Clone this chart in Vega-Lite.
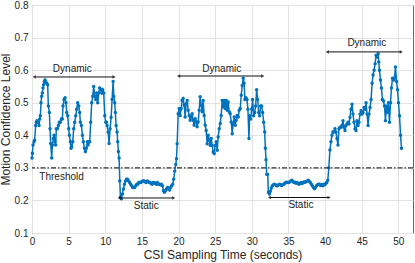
{
"$schema": "https://vega.github.io/schema/vega-lite/v6.json",
"width": 381, "height": 228,
"autosize": {"type": "none"},
"padding": {"left": 32, "top": 5, "right": 2, "bottom": 30},
"background": "white",
"config": {
  "view": {"stroke": "#666666", "strokeWidth": 1},
  "font": "Liberation Sans",
  "axis": {"labelFont": "Liberation Sans", "titleFont": "Liberation Sans", "labelColor": "#262626", "titleColor": "#262626", "labelFontSize": 10, "titleFontSize": 12, "titleFontWeight": "normal", "gridColor": "#e3e3e3", "gridWidth": 1, "domain": false, "ticks": false, "labelOverlap": false, "labelFlush": false}
},
"datasets": {
"series": [
{"t":0,"v":0.33},{"t":0.05,"v":0.345},{"t":0.14,"v":0.37},{"t":0.27,"v":0.38},{"t":0.36,"v":0.385},{"t":0.5,"v":0.43},{"t":0.59,"v":0.44},{"t":0.68,"v":0.445},{"t":0.82,"v":0.44},{"t":0.96,"v":0.43},{"t":1.05,"v":0.45},{"t":1.14,"v":0.46},{"t":1.23,"v":0.5},{"t":1.32,"v":0.52},{"t":1.41,"v":0.53},{"t":1.5,"v":0.545},{"t":1.59,"v":0.555},{"t":1.68,"v":0.565},{"t":1.77,"v":0.57},{"t":1.87,"v":0.565},{"t":2.0,"v":0.56},{"t":2.14,"v":0.555},{"t":2.23,"v":0.49},{"t":2.37,"v":0.47},{"t":2.46,"v":0.42},{"t":2.55,"v":0.375},{"t":2.69,"v":0.33},{"t":2.78,"v":0.37},{"t":2.91,"v":0.39},{"t":3.01,"v":0.4},{"t":3.14,"v":0.38},{"t":3.23,"v":0.37},{"t":3.32,"v":0.42},{"t":3.46,"v":0.42},{"t":3.6,"v":0.43},{"t":3.73,"v":0.44},{"t":3.87,"v":0.44},{"t":4.01,"v":0.45},{"t":4.14,"v":0.45},{"t":4.23,"v":0.49},{"t":4.37,"v":0.51},{"t":4.51,"v":0.515},{"t":4.64,"v":0.5},{"t":4.74,"v":0.47},{"t":4.87,"v":0.46},{"t":5.01,"v":0.42},{"t":5.1,"v":0.4},{"t":5.24,"v":0.38},{"t":5.33,"v":0.36},{"t":5.42,"v":0.365},{"t":5.56,"v":0.38},{"t":5.69,"v":0.42},{"t":5.83,"v":0.44},{"t":5.97,"v":0.46},{"t":6.1,"v":0.48},{"t":6.24,"v":0.5},{"t":6.38,"v":0.49},{"t":6.51,"v":0.47},{"t":6.6,"v":0.44},{"t":6.74,"v":0.43},{"t":6.88,"v":0.4},{"t":7.01,"v":0.38},{"t":7.15,"v":0.36},{"t":7.29,"v":0.35},{"t":7.42,"v":0.36},{"t":7.56,"v":0.38},{"t":7.65,"v":0.37},{"t":7.79,"v":0.38},{"t":7.88,"v":0.38},{"t":8.01,"v":0.44},{"t":8.15,"v":0.5},{"t":8.29,"v":0.52},{"t":8.42,"v":0.55},{"t":8.56,"v":0.52},{"t":8.7,"v":0.51},{"t":8.83,"v":0.53},{"t":8.97,"v":0.5},{"t":9.11,"v":0.53},{"t":9.24,"v":0.545},{"t":9.38,"v":0.54},{"t":9.52,"v":0.53},{"t":9.65,"v":0.54},{"t":9.79,"v":0.53},{"t":9.93,"v":0.46},{"t":10.07,"v":0.44},{"t":10.15,"v":0.44},{"t":10.25,"v":0.43},{"t":10.39,"v":0.41},{"t":10.52,"v":0.375},{"t":10.66,"v":0.42},{"t":10.8,"v":0.455},{"t":10.93,"v":0.51},{"t":11.07,"v":0.565},{"t":11.16,"v":0.52},{"t":11.29,"v":0.5},{"t":11.38,"v":0.47},{"t":11.48,"v":0.43},{"t":11.61,"v":0.41},{"t":11.7,"v":0.38},{"t":11.79,"v":0.35},{"t":11.89,"v":0.33},{"t":11.98,"v":0.26},{"t":12.07,"v":0.21},
{"t":12.2,"v":0.205},{"t":12.34,"v":0.22},{"t":12.48,"v":0.235},{"t":12.62,"v":0.25},{"t":12.76,"v":0.26},{"t":12.9,"v":0.265},{"t":13.04,"v":0.265},{"t":13.18,"v":0.26},{"t":13.32,"v":0.255},{"t":13.46,"v":0.25},{"t":13.6,"v":0.245},{"t":13.74,"v":0.24},{"t":13.88,"v":0.24},{"t":14.02,"v":0.24},{"t":14.16,"v":0.245},{"t":14.3,"v":0.25},{"t":14.44,"v":0.25},{"t":14.58,"v":0.255},{"t":14.72,"v":0.255},{"t":14.86,"v":0.255},{"t":15.0,"v":0.258},{"t":15.14,"v":0.26},{"t":15.28,"v":0.26},{"t":15.42,"v":0.258},{"t":15.56,"v":0.255},{"t":15.7,"v":0.26},{"t":15.84,"v":0.258},{"t":15.98,"v":0.255},{"t":16.12,"v":0.255},{"t":16.26,"v":0.252},{"t":16.4,"v":0.25},{"t":16.54,"v":0.255},{"t":16.68,"v":0.255},{"t":16.82,"v":0.252},{"t":16.96,"v":0.25},{"t":17.1,"v":0.255},{"t":17.24,"v":0.25},{"t":17.38,"v":0.25},{"t":17.52,"v":0.248},{"t":17.66,"v":0.25},{"t":17.8,"v":0.245},{"t":17.94,"v":0.23},{"t":18.08,"v":0.225},{"t":18.22,"v":0.23},{"t":18.36,"v":0.235},{"t":18.5,"v":0.24},{"t":18.64,"v":0.235},{"t":18.78,"v":0.232},{"t":18.92,"v":0.24},{"t":19.06,"v":0.245},{"t":19.2,"v":0.25},{"t":19.34,"v":0.265},{"t":19.48,"v":0.29},{"t":19.62,"v":0.31},
{"t":19.72,"v":0.328},{"t":19.81,"v":0.374},{"t":19.95,"v":0.466},{"t":20.09,"v":0.482},{"t":20.22,"v":0.461},{"t":20.36,"v":0.482},{"t":20.49,"v":0.507},{"t":20.63,"v":0.513},{"t":20.77,"v":0.492},{"t":20.9,"v":0.456},{"t":21.04,"v":0.497},{"t":21.18,"v":0.507},{"t":21.31,"v":0.477},{"t":21.45,"v":0.461},{"t":21.59,"v":0.446},{"t":21.72,"v":0.456},{"t":21.86,"v":0.466},{"t":22.0,"v":0.446},{"t":22.13,"v":0.431},{"t":22.27,"v":0.451},{"t":22.41,"v":0.441},{"t":22.54,"v":0.426},{"t":22.68,"v":0.441},{"t":22.82,"v":0.477},{"t":22.95,"v":0.518},{"t":23.09,"v":0.492},{"t":23.23,"v":0.472},{"t":23.36,"v":0.507},{"t":23.5,"v":0.461},{"t":23.64,"v":0.431},{"t":23.77,"v":0.415},{"t":23.91,"v":0.374},{"t":24.05,"v":0.4},{"t":24.18,"v":0.385},{"t":24.32,"v":0.369},{"t":24.46,"v":0.39},{"t":24.59,"v":0.369},{"t":24.73,"v":0.349},{"t":24.87,"v":0.344},{"t":25.0,"v":0.369},{"t":25.14,"v":0.38},{"t":25.28,"v":0.354},{"t":25.41,"v":0.395},{"t":25.55,"v":0.42},{"t":25.69,"v":0.436},{"t":25.82,"v":0.461},{"t":25.96,"v":0.507},{"t":26.1,"v":0.487},{"t":26.23,"v":0.507},{"t":26.37,"v":0.482},{"t":26.51,"v":0.507},{"t":26.64,"v":0.477},{"t":26.78,"v":0.502},{"t":26.92,"v":0.472},{"t":27.05,"v":0.466},{"t":27.19,"v":0.441},{"t":27.33,"v":0.405},{"t":27.46,"v":0.436},{"t":27.6,"v":0.456},{"t":27.74,"v":0.431},{"t":27.87,"v":0.446},{"t":28.0,"v":0.461},{"t":28.15,"v":0.456},{"t":28.28,"v":0.477},{"t":28.42,"v":0.482},{"t":28.56,"v":0.523},{"t":28.69,"v":0.553},
{"t":28.83,"v":0.575},{"t":28.95,"v":0.56},{"t":29.06,"v":0.51},{"t":29.2,"v":0.515},{"t":29.34,"v":0.51},{"t":29.47,"v":0.48},{"t":29.61,"v":0.39},{"t":29.7,"v":0.46},{"t":29.84,"v":0.45},{"t":29.98,"v":0.48},{"t":30.11,"v":0.51},{"t":30.25,"v":0.46},{"t":30.39,"v":0.47},{"t":30.52,"v":0.49},{"t":30.66,"v":0.54},{"t":30.8,"v":0.51},{"t":30.94,"v":0.47},{"t":31.07,"v":0.46},{"t":31.21,"v":0.49},{"t":31.35,"v":0.49},{"t":31.48,"v":0.47},{"t":31.62,"v":0.44},{"t":31.76,"v":0.41},{"t":31.85,"v":0.36},{"t":31.94,"v":0.325},{"t":32.03,"v":0.28},{"t":32.17,"v":0.28},{"t":32.26,"v":0.225},
{"t":32.4,"v":0.22},{"t":32.53,"v":0.228},{"t":32.67,"v":0.238},{"t":32.81,"v":0.245},{"t":32.95,"v":0.248},{"t":33.09,"v":0.25},{"t":33.23,"v":0.248},{"t":33.37,"v":0.245},{"t":33.51,"v":0.245},{"t":33.65,"v":0.248},{"t":33.79,"v":0.25},{"t":33.93,"v":0.248},{"t":34.07,"v":0.246},{"t":34.21,"v":0.248},{"t":34.35,"v":0.25},{"t":34.49,"v":0.252},{"t":34.63,"v":0.255},{"t":34.77,"v":0.256},{"t":34.91,"v":0.255},{"t":35.05,"v":0.255},{"t":35.19,"v":0.257},{"t":35.33,"v":0.26},{"t":35.47,"v":0.262},{"t":35.61,"v":0.258},{"t":35.75,"v":0.255},{"t":35.89,"v":0.256},{"t":36.03,"v":0.253},{"t":36.17,"v":0.255},{"t":36.31,"v":0.252},{"t":36.45,"v":0.25},{"t":36.59,"v":0.253},{"t":36.73,"v":0.255},{"t":36.87,"v":0.252},{"t":37.01,"v":0.255},{"t":37.15,"v":0.257},{"t":37.29,"v":0.256},{"t":37.43,"v":0.258},{"t":37.57,"v":0.26},{"t":37.71,"v":0.262},{"t":37.85,"v":0.258},{"t":37.99,"v":0.255},{"t":38.13,"v":0.25},{"t":38.27,"v":0.245},{"t":38.41,"v":0.24},{"t":38.55,"v":0.236},{"t":38.69,"v":0.24},{"t":38.83,"v":0.245},{"t":38.97,"v":0.248},{"t":39.11,"v":0.25},{"t":39.25,"v":0.25},{"t":39.39,"v":0.246},{"t":39.53,"v":0.248},{"t":39.67,"v":0.245},{"t":39.81,"v":0.25},{"t":39.95,"v":0.248},{"t":40.09,"v":0.252},{"t":40.23,"v":0.255},{"t":40.37,"v":0.262},{"t":40.51,"v":0.3},
{"t":40.66,"v":0.355},{"t":40.8,"v":0.38},{"t":40.94,"v":0.4},{"t":41.07,"v":0.41},{"t":41.21,"v":0.41},{"t":41.35,"v":0.42},{"t":41.48,"v":0.41},{"t":41.62,"v":0.39},{"t":41.76,"v":0.37},{"t":41.89,"v":0.42},{"t":42.03,"v":0.425},{"t":42.17,"v":0.425},{"t":42.31,"v":0.43},{"t":42.44,"v":0.445},{"t":42.58,"v":0.425},{"t":42.72,"v":0.415},{"t":42.85,"v":0.43},{"t":42.99,"v":0.435},{"t":43.13,"v":0.44},{"t":43.26,"v":0.435},{"t":43.4,"v":0.455},{"t":43.54,"v":0.48},{"t":43.68,"v":0.495},{"t":43.81,"v":0.465},{"t":43.95,"v":0.44},{"t":44.09,"v":0.42},{"t":44.22,"v":0.415},{"t":44.36,"v":0.445},{"t":44.5,"v":0.43},{"t":44.63,"v":0.44},{"t":44.77,"v":0.465},{"t":44.91,"v":0.475},{"t":45.05,"v":0.465},{"t":45.18,"v":0.47},{"t":45.32,"v":0.485},{"t":45.46,"v":0.48},{"t":45.59,"v":0.5},{"t":45.73,"v":0.465},{"t":45.87,"v":0.43},{"t":46.0,"v":0.465},{"t":46.14,"v":0.485},{"t":46.28,"v":0.51},{"t":46.42,"v":0.56},{"t":46.55,"v":0.585},{"t":46.69,"v":0.6},{"t":46.83,"v":0.62},{"t":46.96,"v":0.645},{"t":47.1,"v":0.64},{"t":47.24,"v":0.65},{"t":47.33,"v":0.625},{"t":47.42,"v":0.6},{"t":47.56,"v":0.57},{"t":47.69,"v":0.545},{"t":47.83,"v":0.51},{"t":47.97,"v":0.505},{"t":48.11,"v":0.49},{"t":48.24,"v":0.445},{"t":48.38,"v":0.49},{"t":48.52,"v":0.47},{"t":48.65,"v":0.5},{"t":48.79,"v":0.44},{"t":48.93,"v":0.5},{"t":49.06,"v":0.545},{"t":49.2,"v":0.575},{"t":49.34,"v":0.57},{"t":49.47,"v":0.575},{"t":49.61,"v":0.61},{"t":49.75,"v":0.565},{"t":49.89,"v":0.54},{"t":50.02,"v":0.5},{"t":50.16,"v":0.46},{"t":50.3,"v":0.4},{"t":50.43,"v":0.36}
],
"arrows": [
{"x1":0.3,"x2":11.2,"y":0.579,"label":"Dynamic","tx":5.5,"ty":0.603},
{"x1":20.0,"x2":31.5,"y":0.582,"label":"Dynamic","tx":25.9,"ty":0.605},
{"x1":40.3,"x2":50.4,"y":0.656,"label":"Dynamic","tx":45.7,"ty":0.684},
{"x1":11.9,"x2":19.35,"y":0.2075,"label":"Static","tx":15.6,"ty":0.183},
{"x1":32.4,"x2":40.55,"y":0.209,"label":"Static","tx":36.7,"ty":0.187}
],
"threshold": [{"y":0.3,"label":"Threshold","tx":1.0,"ty":0.272}]
},
"layer": [
{
  "data": {"name": "series"},
  "mark": {"type": "line", "color": "#0072BD", "strokeWidth": 1.5, "point": {"filled": true, "size": 12, "color": "#0072BD"}},
  "encoding": {
    "x": {"field": "t", "type": "quantitative", "scale": {"domain": [0, 52], "nice": false},
          "axis": {"title": "CSI Sampling Time (seconds)", "values": [0,5,10,15,20,25,30,35,40,45,50], "labelOverlap": false, "labelPadding": 3, "titlePadding": 3}},
    "y": {"field": "v", "type": "quantitative", "scale": {"domain": [0.1, 0.8], "nice": false},
          "axis": {"title": "Motion Confidence Level", "values": [0.1,0.2,0.3,0.4,0.5,0.6,0.7,0.8], "format": ".1f", "labelOverlap": false, "labelPadding": 4, "titlePadding": 2}}
  }
},
{
  "data": {"name": "threshold"},
  "mark": {"type": "rule", "color": "#333333", "strokeWidth": 1.2, "strokeDash": [5, 2, 1.5, 2]},
  "encoding": {
    "y": {"field": "y", "type": "quantitative", "scale": {"domain": [0.1, 0.8], "nice": false},
          "axis": {"title": "Motion Confidence Level", "values": [0.1,0.2,0.3,0.4,0.5,0.6,0.7,0.8], "format": ".1f", "labelOverlap": false, "labelPadding": 4, "titlePadding": 2}}
  }
},
{
  "data": {"name": "threshold"},
  "mark": {"type": "text", "align": "left", "baseline": "middle", "fontSize": 10, "color": "#222222", "font": "Liberation Sans"},
  "encoding": {
    "x": {"field": "tx", "type": "quantitative", "scale": {"domain": [0, 52], "nice": false},
          "axis": {"title": "CSI Sampling Time (seconds)", "values": [0,5,10,15,20,25,30,35,40,45,50], "labelOverlap": false, "labelPadding": 3, "titlePadding": 3}},
    "y": {"field": "ty", "type": "quantitative", "scale": {"domain": [0.1, 0.8], "nice": false},
          "axis": {"title": "Motion Confidence Level", "values": [0.1,0.2,0.3,0.4,0.5,0.6,0.7,0.8], "format": ".1f", "labelOverlap": false, "labelPadding": 4, "titlePadding": 2}},
    "text": {"field": "label"}
  }
},
{
  "data": {"name": "arrows"},
  "mark": {"type": "rule", "color": "#111111", "strokeWidth": 1},
  "encoding": {
    "x": {"field": "x1", "type": "quantitative", "scale": {"domain": [0, 52], "nice": false},
          "axis": {"title": "CSI Sampling Time (seconds)", "values": [0,5,10,15,20,25,30,35,40,45,50], "labelOverlap": false, "labelPadding": 3, "titlePadding": 3}},
    "x2": {"field": "x2"},
    "y": {"field": "y", "type": "quantitative", "scale": {"domain": [0.1, 0.8], "nice": false},
          "axis": {"title": "Motion Confidence Level", "values": [0.1,0.2,0.3,0.4,0.5,0.6,0.7,0.8], "format": ".1f", "labelOverlap": false, "labelPadding": 4, "titlePadding": 2}}
  }
},
{
  "data": {"name": "arrows"},
  "mark": {"type": "point", "shape": "triangle-left", "filled": true, "size": 14, "color": "#111111"},
  "encoding": {
    "x": {"field": "x1", "type": "quantitative", "scale": {"domain": [0, 52], "nice": false},
          "axis": {"title": "CSI Sampling Time (seconds)", "values": [0,5,10,15,20,25,30,35,40,45,50], "labelOverlap": false, "labelPadding": 3, "titlePadding": 3}},
    "y": {"field": "y", "type": "quantitative", "scale": {"domain": [0.1, 0.8], "nice": false},
          "axis": {"title": "Motion Confidence Level", "values": [0.1,0.2,0.3,0.4,0.5,0.6,0.7,0.8], "format": ".1f", "labelOverlap": false, "labelPadding": 4, "titlePadding": 2}}
  }
},
{
  "data": {"name": "arrows"},
  "mark": {"type": "point", "shape": "triangle-right", "filled": true, "size": 14, "color": "#111111"},
  "encoding": {
    "x": {"field": "x2", "type": "quantitative", "scale": {"domain": [0, 52], "nice": false},
          "axis": {"title": "CSI Sampling Time (seconds)", "values": [0,5,10,15,20,25,30,35,40,45,50], "labelOverlap": false, "labelPadding": 3, "titlePadding": 3}},
    "y": {"field": "y", "type": "quantitative", "scale": {"domain": [0.1, 0.8], "nice": false},
          "axis": {"title": "Motion Confidence Level", "values": [0.1,0.2,0.3,0.4,0.5,0.6,0.7,0.8], "format": ".1f", "labelOverlap": false, "labelPadding": 4, "titlePadding": 2}}
  }
},
{
  "data": {"name": "arrows"},
  "mark": {"type": "text", "align": "center", "baseline": "middle", "fontSize": 10, "color": "#222222", "font": "Liberation Sans"},
  "encoding": {
    "x": {"field": "tx", "type": "quantitative", "scale": {"domain": [0, 52], "nice": false},
          "axis": {"title": "CSI Sampling Time (seconds)", "values": [0,5,10,15,20,25,30,35,40,45,50], "labelOverlap": false, "labelPadding": 3, "titlePadding": 3}},
    "y": {"field": "ty", "type": "quantitative", "scale": {"domain": [0.1, 0.8], "nice": false},
          "axis": {"title": "Motion Confidence Level", "values": [0.1,0.2,0.3,0.4,0.5,0.6,0.7,0.8], "format": ".1f", "labelOverlap": false, "labelPadding": 4, "titlePadding": 2}},
    "text": {"field": "label"}
  }
}
]
}
